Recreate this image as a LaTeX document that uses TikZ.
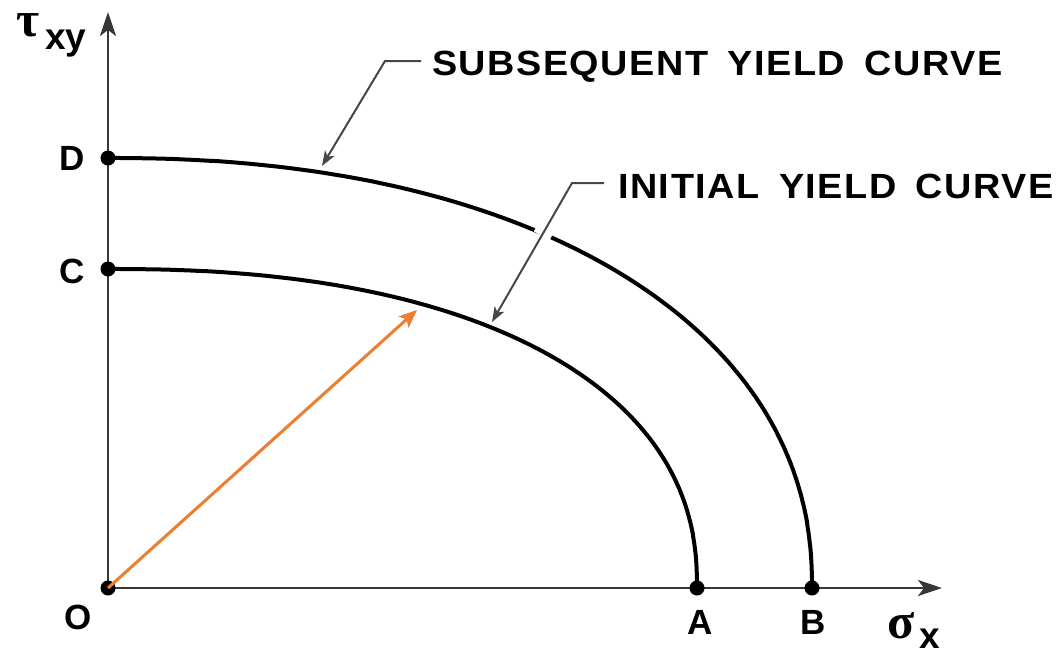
\documentclass[tikz,border=0pt]{standalone}
\usepackage{fontspec}
\setmainfont{Liberation Sans}
\newfontfamily\grk{Liberation Serif}
\usetikzlibrary{arrows.meta}
\definecolor{orng}{RGB}{237,125,49}
\definecolor{axisgray}{RGB}{55,55,55}
\definecolor{leadgray}{RGB}{70,70,70}
\newcommand{\widetext}[1]{\scalebox{1.08}[1]{#1}}
\begin{document}
\begin{tikzpicture}[x=1pt,y=-1pt,
  axis/.style={line width=2.6pt, draw=axisgray, -{Stealth[length=24pt,width=16pt,inset=6pt]}},
  curve/.style={line width=4pt, black},
  leader/.style={line width=2pt, draw=leadgray, -{Stealth[length=15pt,width=11pt,inset=4pt]}},
  dot/.style={circle, fill=black, inner sep=0pt, minimum size=15pt},
  lbl/.style={font=\fontsize{35}{40}\selectfont\bfseries, inner sep=0pt},
  caption/.style={font=\fontsize{35}{40}\selectfont\bfseries\addfontfeature{LetterSpace=4}, anchor=base west, inner sep=0pt},
  greek/.style={font=\grk\bfseries\fontsize{50}{52}\selectfont, inner sep=0pt},
  sub/.style={font=\fontsize{37}{40}\selectfont\bfseries, inner sep=0pt},
  loading/.style={line width=3pt, draw=orng, -{Stealth[length=18pt,width=15pt,inset=4pt]}},
]
\useasboundingbox (0,0) rectangle (1057,654);
% key points
\coordinate (O) at (108,588);
\coordinate (A) at (697,588);
\coordinate (B) at (812,588);
\coordinate (C) at (108,269);
\coordinate (D) at (108,158);
\coordinate (yend) at (108,12);
\coordinate (xend) at (942,588);
% axes
\draw[axis] (O) -- (yend);
\draw[axis] (O) -- (xend);
% yield curves
\draw[curve] plot[domain=0.001:89.999, samples=150, variable=\t]
  ({108+589*pow(cos(\t),0.87)}, {588-319*pow(sin(\t),0.87)});
\draw[curve] plot[domain=0.001:89.999, samples=150, variable=\t]
  ({108+704*pow(cos(\t),0.91)}, {588-430*pow(sin(\t),0.91)});
% leaders
\coordinate (s1) at (421,61);
\coordinate (s2) at (385,61);
\coordinate (s3) at (322,166);
\coordinate (i1) at (604,183);
\coordinate (i2) at (572,183);
\coordinate (i3) at (492,322);
\path (i2) -- (i3) coordinate[pos=0.28] (g1) coordinate[pos=0.38] (g2);
\draw[white, line width=18pt] (g1) -- (g2);
\draw[leader] (s1) -- (s2) -- (s3);
\draw[leader] (i1) -- (i2) -- (i3);
% dots
\node[dot] (nO) at (O) {};
\node[dot] (nA) at (A) {};
\node[dot] (nB) at (B) {};
\node[dot] (nC) at (C) {};
\node[dot] (nD) at (D) {};
% loading path
\coordinate (T) at (417,310);
\draw[loading] (O) -- (T);
% labels
\node[lbl] (lO) at (78,617) {O};
\node[lbl] (lA) at (700,622) {A};
\node[lbl] (lB) at (813,622) {B};
\node[lbl] (lC) at (72,271) {C};
\node[lbl] (lD) at (72,158) {D};
\node[caption] (tS) at (432,75) {\widetext{SUBSEQUENT\hspace{18pt}YIELD\hspace{18pt}CURVE}};
\node[caption] (tI) at (618,198) {\widetext{INITIAL\hspace{18pt}YIELD\hspace{18pt}CURVE}};
\node[greek] (tau) at (28,25) {τ};
\node[sub] (xy) at (66,44) {xy};
\node[greek] (sig) at (901,626) {σ};
\node[sub] (x) at (930,639) {x};
\end{tikzpicture}
\end{document}
